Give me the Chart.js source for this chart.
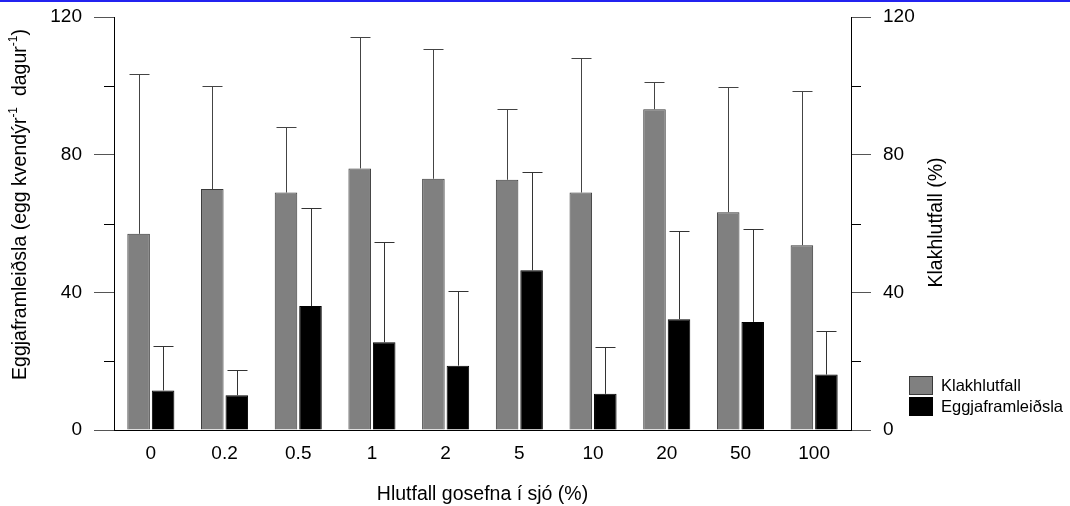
<!DOCTYPE html>
<html>
<head>
<meta charset="utf-8">
<script src="https://cdn.jsdelivr.net/npm/chart.js@4.4.1/dist/chart.umd.min.js"></script>
<style>
  html, body { margin: 0; padding: 0; background: #fff; }
  #wrap { position: relative; width: 1070px; height: 506px; }
  #topline { position: absolute; left: 0; top: 0; width: 1070px; height: 2px; background: #2323f0; z-index: 2; }
  canvas { position: absolute; left: 0; top: 0; }
</style>
</head>
<body>
<div id="wrap">
  <div id="topline"></div>
  <canvas id="c" width="1070" height="506"></canvas>
</div>
<script>
// ---- data ----
const categories = ['0', '0.2', '0.5', '1', '2', '5', '10', '20', '50', '100'];
const hatchRate = [57, 70, 69, 76, 73, 72.7, 69, 93.2, 63.3, 53.7];        // Klakhlutfall (%) - right axis
const hatchSd   = [46.5, 30, 19, 38.3, 37.7, 20.5, 39.1, 8, 36.5, 44.8];
const eggProd   = [11.5, 10.1, 36, 25.5, 18.7, 46.4, 10.5, 32.2, 31.4, 16.1]; // Eggjaframleiðsla - left axis
const eggSd     = [13, 7.4, 28.6, 29.1, 21.6, 28.6, 13.7, 25.7, 26.9, 12.7];
const yTickValues = [0, 40, 80, 120];

const FONT = "'Liberation Sans', Arial, Helvetica, sans-serif";

const errorBarPlugin = {
  id: 'errorBars',
  afterDatasetsDraw(chart) {
    const ctx = chart.ctx;
    chart.data.datasets.forEach((ds, i) => {
      const meta = chart.getDatasetMeta(i);
      const scale = chart.scales[ds.yAxisID];
      ctx.save();
      ctx.strokeStyle = ds.errorColor;
      ctx.lineWidth = 1;
      meta.data.forEach((el, j) => {
        const x = Math.round(el.x) + 0.5;
        const yBar = el.y;
        const yTop = Math.round(scale.getPixelForValue(ds.data[j] + ds.sd[j])) + 0.5;
        ctx.beginPath();
        ctx.moveTo(x, yBar);
        ctx.lineTo(x, yTop);
        ctx.moveTo(x - 10, yTop);
        ctx.lineTo(x + 10, yTop);
        ctx.stroke();
      });
      ctx.restore();
    });
  }
};

const decorPlugin = {
  id: 'decor',
  afterDraw(chart) {
    const ctx = chart.ctx;
    const area = chart.chartArea;
    // minor ticks (shorter) at 20, 60, 100
    ctx.save();
    ctx.strokeStyle = '#000';
    ctx.lineWidth = 1;
    ['yL', 'yR'].forEach(id => {
      const s = chart.scales[id];
      s.ticks.forEach(t => {
        if (t.value % 40 === 0) return;
        const y = Math.round(s.getPixelForValue(t.value)) + 0.5;
        ctx.beginPath();
        if (id === 'yL') { ctx.moveTo(area.left - 10, y); ctx.lineTo(area.left, y); }
        else { ctx.moveTo(area.right, y); ctx.lineTo(area.right + 10, y); }
        ctx.stroke();
      });
    });
    ctx.restore();

    // left axis title with superscripts
    ctx.save();
    ctx.fillStyle = '#000';
    ctx.translate(21, (area.top + area.bottom) / 2 - 19);
    ctx.rotate(-Math.PI / 2);
    const big = '19.5px ' + FONT, small = '12px ' + FONT;
    const segs = [
      ['Eggjaframleiðsla (egg kvendýr', big, 0],
      ['-1', small, -7],
      ['  dagur', big, 0],
      ['-1', small, -7],
      [')', big, 0]
    ];
    let total = 0;
    segs.forEach(s => { ctx.font = s[1]; total += ctx.measureText(s[0]).width; });
    let x = -total / 2;
    ctx.textBaseline = 'middle';
    ctx.textAlign = 'left';
    segs.forEach(s => {
      ctx.font = s[1];
      ctx.fillText(s[0], x, s[2]);
      x += ctx.measureText(s[0]).width;
    });
    ctx.restore();

    // right axis title (reads bottom to top)
    ctx.save();
    ctx.fillStyle = '#000';
    ctx.translate(937, (area.top + area.bottom) / 2 - 1);
    ctx.rotate(-Math.PI / 2);
    ctx.font = '19.5px ' + FONT;
    ctx.textAlign = 'center';
    ctx.textBaseline = 'middle';
    ctx.fillText('Klakhlutfall (%)', 0, 0);
    ctx.restore();

    // legend
    ctx.save();
    ctx.font = '16.5px ' + FONT;
    ctx.textBaseline = 'middle';
    ctx.textAlign = 'left';
    chart.data.datasets.forEach((ds, i) => {
      const top = 376 + i * 21;
      ctx.fillStyle = ds.backgroundColor;
      ctx.fillRect(909, top, 24, 19);
      ctx.strokeStyle = ds.borderColor;
      ctx.lineWidth = 1;
      ctx.strokeRect(909.5, top + 0.5, 23, 18);
      ctx.fillStyle = '#000';
      ctx.fillText(ds.label, 941, top + 10);
    });
    ctx.restore();
  }
};

const yCommon = (position) => ({
  position: position,
  min: 0,
  max: 120,
  grid: {
    display: true,
    drawOnChartArea: false,
    drawTicks: true,
    tickLength: 20,
    tickColor: (c) => (c.tick && c.tick.value % 40 === 0) ? '#555' : 'rgba(0,0,0,0)'
  },
  border: { display: true, color: '#000', width: 1 },
  ticks: {
    stepSize: 20,
    autoSkip: false,
    padding: 12,
    color: '#000',
    font: { family: FONT, size: 19 },
    callback: (v) => yTickValues.includes(v) ? String(v) : ''
  }
});

new Chart(document.getElementById('c'), {
  type: 'bar',
  data: {
    labels: categories,
    datasets: [
      {
        label: 'Klakhlutfall',
        data: hatchRate,
        sd: hatchSd,
        yAxisID: 'yR',
        backgroundColor: '#808080',
        borderColor: '#3a3a3a',
        borderWidth: 1,
        errorColor: '#444',
        categoryPercentage: 0.665,
        barPercentage: 0.92
      },
      {
        label: 'Eggjaframleiðsla',
        data: eggProd,
        sd: eggSd,
        yAxisID: 'yL',
        backgroundColor: '#000000',
        borderColor: '#000000',
        borderWidth: 1,
        errorColor: '#333',
        categoryPercentage: 0.665,
        barPercentage: 0.92
      }
    ]
  },
  options: {
    responsive: false,
    animation: false,
    devicePixelRatio: 1,
    layout: { padding: { left: 0, right: 0, top: 17, bottom: 0 } },
    plugins: { legend: { display: false }, tooltip: { enabled: false } },
    scales: {
      x: {
        position: 'bottom',
        grid: { display: false, drawTicks: false },
        border: { display: true, color: '#000', width: 1 },
        ticks: { padding: 12, color: '#000', font: { family: FONT, size: 19 } },
        title: {
          display: true,
          text: 'Hlutfall gosefna í sjó (%)',
          color: '#000',
          font: { family: FONT, size: 19.5 },
          padding: { top: 0, bottom: 0 }
        },
        afterFit: (s) => { s.height = 76; s.paddingLeft = 0; s.paddingRight = 0; }
      },
      yL: Object.assign(yCommon('left'), { afterFit: (s) => { s.width = 114; s.paddingTop = 0; s.paddingBottom = 0; } }),
      yR: Object.assign(yCommon('right'), { afterFit: (s) => { s.width = 219; s.paddingTop = 0; s.paddingBottom = 0; } })
    }
  },
  plugins: [errorBarPlugin, decorPlugin]
});
</script>
</body>
</html>
